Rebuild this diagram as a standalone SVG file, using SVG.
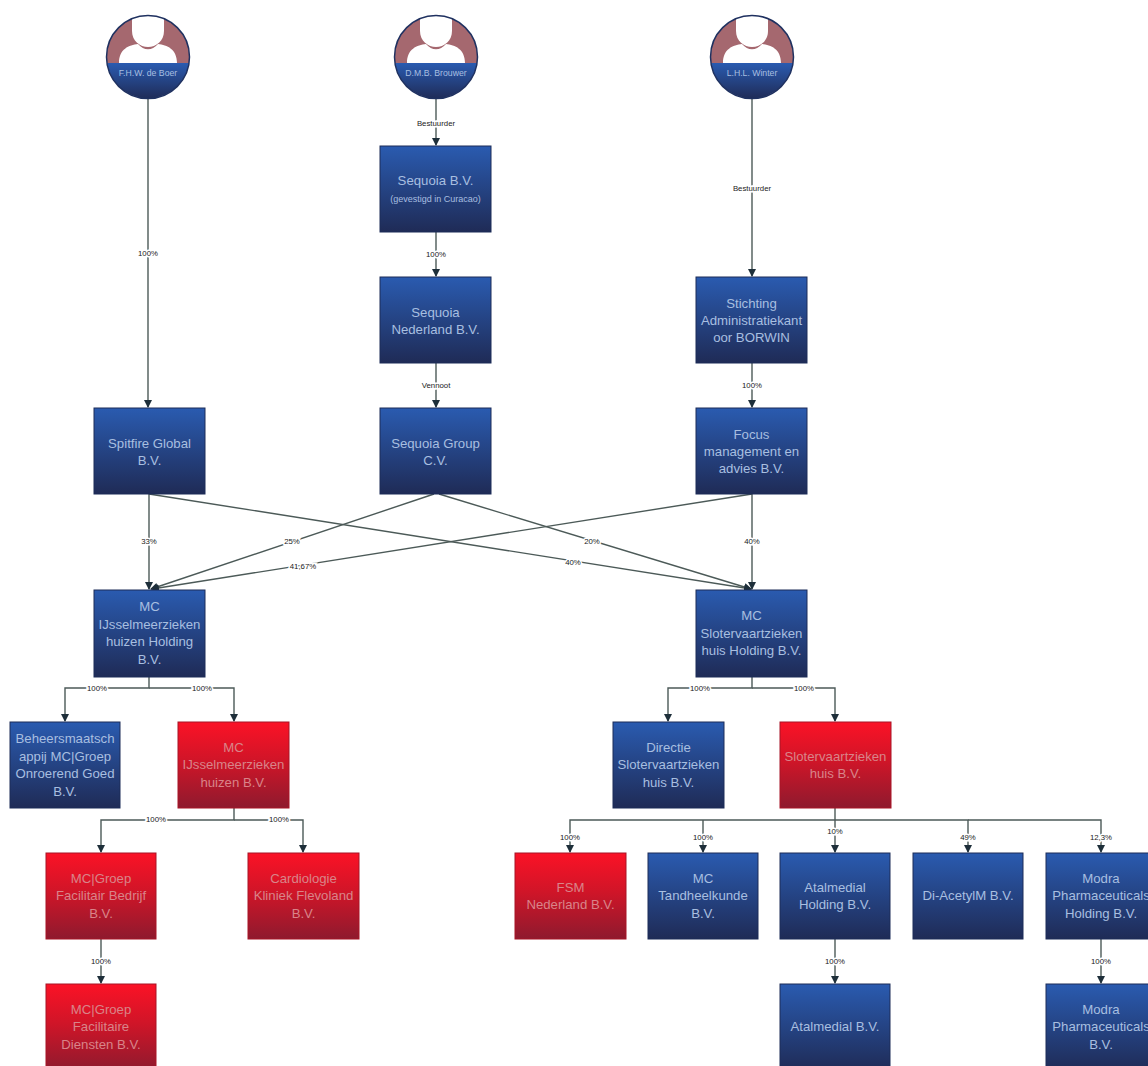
<svg xmlns="http://www.w3.org/2000/svg" width="1148" height="1066" viewBox="0 0 1148 1066">
<style>
.b{fill:url(#blue);stroke:#1d2c58;stroke-width:1}
.r{fill:url(#red);stroke:#a81526;stroke-width:1}
text{font-family:"Liberation Sans",Arial,sans-serif;text-anchor:middle}
.tb{font-size:13.2px;fill:#a8bfe0}
.tr{font-size:13.2px;fill:#d98489}
.ts{font-size:9px;fill:#a8bfe0}
.av{font-size:8.7px;fill:#a8bfe0}
.l{fill:none;stroke:#4c5a58;stroke-width:1.4}
.lbl{font-size:7.8px;fill:#222;paint-order:stroke;stroke:#fff;stroke-width:3px}
</style>
<defs>
<linearGradient id="blue" x1="0" y1="0" x2="0" y2="1"><stop offset="0" stop-color="#2a5bb0"/><stop offset="1" stop-color="#1f2b56"/></linearGradient>
<linearGradient id="red" x1="0" y1="0" x2="0" y2="1"><stop offset="0" stop-color="#fb1226"/><stop offset="0.45" stop-color="#d01528"/><stop offset="1" stop-color="#8e1a2e"/></linearGradient>
<marker id="a" markerWidth="9" markerHeight="9" refX="7" refY="4" orient="auto" markerUnits="userSpaceOnUse"><path d="M0 0L8 4L0 8Z" fill="#1e2f3a"/></marker>
<clipPath id="cc"><circle cx="0" cy="0" r="41.5"/></clipPath>
<g id="avatar">
<g clip-path="url(#cc)">
<rect x="-42" y="-42" width="84" height="48" fill="#a5686f"/>
<rect x="-42" y="6" width="84" height="36" fill="url(#blue)"/>
<path d="M-29 6C-29 -8 -19 -12 -10 -13C-4 -6 4 -6 10 -13C19 -12 29 -8 29 6Z" fill="#fff"/>
<path d="M-16 -42H16V-26C16 -16 8 -10 0 -10C-8 -10 -16 -16 -16 -26Z" fill="#fff"/>
</g>
<circle r="41.5" fill="none" stroke="#1f3160" stroke-width="1.5"/>
</g>
</defs>
<rect width="1148" height="1066" fill="#fff"/>
<g id="connectors">
<path class="l" d="M148 99V407" marker-end="url(#a)"/>
<path class="l" d="M436 99V145" marker-end="url(#a)"/>
<path class="l" d="M436 232V276" marker-end="url(#a)"/>
<path class="l" d="M436 363V407" marker-end="url(#a)"/>
<path class="l" d="M752 99V276" marker-end="url(#a)"/>
<path class="l" d="M752 363V407" marker-end="url(#a)"/>
<path class="l" d="M149 494V589" marker-end="url(#a)"/>
<path class="l" d="M149 494L751 589" marker-end="url(#a)"/>
<path class="l" d="M434 494L151 589" marker-end="url(#a)"/>
<path class="l" d="M439 494L751 589" marker-end="url(#a)"/>
<path class="l" d="M752 494L152 589" marker-end="url(#a)"/>
<path class="l" d="M752 494V589" marker-end="url(#a)"/>
<path class="l" d="M149 677V688H65V721" marker-end="url(#a)"/>
<path class="l" d="M149 688H234V721" marker-end="url(#a)"/>
<path class="l" d="M752 677V688H668V721" marker-end="url(#a)"/>
<path class="l" d="M752 688H835V721" marker-end="url(#a)"/>
<path class="l" d="M234 808V820H101V852" marker-end="url(#a)"/>
<path class="l" d="M234 820H303V852" marker-end="url(#a)"/>
<path class="l" d="M101 939V983" marker-end="url(#a)"/>
<path class="l" d="M835 808V852" marker-end="url(#a)"/>
<path class="l" d="M835 820H570V852" marker-end="url(#a)"/>
<path class="l" d="M703 820V852" marker-end="url(#a)"/>
<path class="l" d="M835 820H968V852" marker-end="url(#a)"/>
<path class="l" d="M968 820H1101V852" marker-end="url(#a)"/>
<path class="l" d="M835 939V983" marker-end="url(#a)"/>
<path class="l" d="M1101 939V983" marker-end="url(#a)"/>
<g id="connector-labels">
<text class="lbl" x="148" y="256">100%</text>
<text class="lbl" x="436" y="126">Bestuurder</text>
<text class="lbl" x="436" y="257">100%</text>
<text class="lbl" x="436" y="388">Vennoot</text>
<text class="lbl" x="752" y="191">Bestuurder</text>
<text class="lbl" x="752" y="388">100%</text>
<text class="lbl" x="149" y="544">33%</text>
<text class="lbl" x="292" y="544">25%</text>
<text class="lbl" x="303" y="569">41,67%</text>
<text class="lbl" x="592" y="544">20%</text>
<text class="lbl" x="573" y="565">40%</text>
<text class="lbl" x="752" y="544">40%</text>
<text class="lbl" x="97" y="691">100%</text>
<text class="lbl" x="202" y="691">100%</text>
<text class="lbl" x="700" y="691">100%</text>
<text class="lbl" x="804" y="691">100%</text>
<text class="lbl" x="156" y="822">100%</text>
<text class="lbl" x="279" y="822">100%</text>
<text class="lbl" x="101" y="964">100%</text>
<text class="lbl" x="570" y="840">100%</text>
<text class="lbl" x="703" y="840">100%</text>
<text class="lbl" x="835" y="834">10%</text>
<text class="lbl" x="968" y="840">49%</text>
<text class="lbl" x="1101" y="840">12,3%</text>
<text class="lbl" x="835" y="964">100%</text>
<text class="lbl" x="1101" y="964">100%</text>
</g>
</g>
<g id="p1"><use href="#avatar" x="148" y="57"/><text class="av" x="148" y="76">F.H.W. de Boer</text></g>
<g id="p2"><use href="#avatar" x="436" y="57"/><text class="av" x="436" y="76">D.M.B. Brouwer</text></g>
<g id="p3"><use href="#avatar" x="752" y="57"/><text class="av" x="752" y="76">L.H.L. Winter</text></g>
<g id="n1"><rect class="b" x="380" y="146" width="111" height="86"/><text class="tb" x="435.5" y="185">Sequoia B.V.</text><text class="ts" x="435.5" y="202">(gevestigd in Curacao)</text></g>
<g id="n2"><rect class="b" x="380" y="277" width="111" height="86"/><text class="tb" x="435.5" y="317">Sequoia</text><text class="tb" x="435.5" y="334">Nederland B.V.</text></g>
<g id="n3"><rect class="b" x="380" y="408" width="111" height="86"/><text class="tb" x="435.5" y="448">Sequoia Group</text><text class="tb" x="435.5" y="465">C.V.</text></g>
<g id="n4"><rect class="b" x="94" y="408" width="111" height="86"/><text class="tb" x="149.5" y="448">Spitfire Global</text><text class="tb" x="149.5" y="465">B.V.</text></g>
<g id="n5"><rect class="b" x="696" y="277" width="111" height="86"/><text class="tb" x="751.5" y="308">Stichting</text><text class="tb" x="751.5" y="325">Administratiekant</text><text class="tb" x="751.5" y="342">oor BORWIN</text></g>
<g id="n6"><rect class="b" x="696" y="408" width="111" height="86"/><text class="tb" x="751.5" y="439">Focus</text><text class="tb" x="751.5" y="456">management en</text><text class="tb" x="751.5" y="473">advies B.V.</text></g>
<g id="n7"><rect class="b" x="94" y="590" width="111" height="87"/><text class="tb" x="149.5" y="611">MC</text><text class="tb" x="149.5" y="629">IJsselmeerzieken</text><text class="tb" x="149.5" y="646">huizen Holding</text><text class="tb" x="149.5" y="664">B.V.</text></g>
<g id="n8"><rect class="b" x="696" y="590" width="111" height="87"/><text class="tb" x="751.5" y="620">MC</text><text class="tb" x="751.5" y="638">Slotervaartzieken</text><text class="tb" x="751.5" y="655">huis Holding B.V.</text></g>
<g id="n9"><rect class="b" x="10" y="722" width="110" height="86"/><text class="tb" x="65" y="743">Beheersmaatsch</text><text class="tb" x="65" y="761">appij MC|Groep</text><text class="tb" x="65" y="778">Onroerend Goed</text><text class="tb" x="65" y="796">B.V.</text></g>
<g id="n10"><rect class="r" x="178" y="722" width="111" height="86"/><text class="tr" x="233.5" y="752">MC</text><text class="tr" x="233.5" y="769">IJsselmeerzieken</text><text class="tr" x="233.5" y="787">huizen B.V.</text></g>
<g id="n11"><rect class="b" x="613" y="722" width="111" height="86"/><text class="tb" x="668.5" y="752">Directie</text><text class="tb" x="668.5" y="769">Slotervaartzieken</text><text class="tb" x="668.5" y="787">huis B.V.</text></g>
<g id="n12"><rect class="r" x="780" y="722" width="111" height="86"/><text class="tr" x="835.5" y="761">Slotervaartzieken</text><text class="tr" x="835.5" y="778">huis B.V.</text></g>
<g id="n13"><rect class="r" x="46" y="853" width="110" height="86"/><text class="tr" x="101" y="883">MC|Groep</text><text class="tr" x="101" y="900">Facilitair Bedrijf</text><text class="tr" x="101" y="918">B.V.</text></g>
<g id="n14"><rect class="r" x="248" y="853" width="111" height="86"/><text class="tr" x="303.5" y="883">Cardiologie</text><text class="tr" x="303.5" y="900">Kliniek Flevoland</text><text class="tr" x="303.5" y="918">B.V.</text></g>
<g id="n15"><rect class="r" x="46" y="984" width="110" height="87"/><text class="tr" x="101" y="1014">MC|Groep</text><text class="tr" x="101" y="1031">Facilitaire</text><text class="tr" x="101" y="1049">Diensten B.V.</text></g>
<g id="n16"><rect class="r" x="515" y="853" width="111" height="86"/><text class="tr" x="570.5" y="892">FSM</text><text class="tr" x="570.5" y="909">Nederland B.V.</text></g>
<g id="n17"><rect class="b" x="648" y="853" width="110" height="86"/><text class="tb" x="703" y="883">MC</text><text class="tb" x="703" y="900">Tandheelkunde</text><text class="tb" x="703" y="918">B.V.</text></g>
<g id="n18"><rect class="b" x="780" y="853" width="110" height="86"/><text class="tb" x="835" y="892">Atalmedial</text><text class="tb" x="835" y="909">Holding B.V.</text></g>
<g id="n19"><rect class="b" x="913" y="853" width="110" height="86"/><text class="tb" x="968" y="900">Di-AcetylM B.V.</text></g>
<g id="n20"><rect class="b" x="1046" y="853" width="110" height="86"/><text class="tb" x="1101" y="883">Modra</text><text class="tb" x="1101" y="900">Pharmaceuticals</text><text class="tb" x="1101" y="918">Holding B.V.</text></g>
<g id="n21"><rect class="b" x="780" y="984" width="110" height="87"/><text class="tb" x="835" y="1031">Atalmedial B.V.</text></g>
<g id="n22"><rect class="b" x="1046" y="984" width="110" height="87"/><text class="tb" x="1101" y="1014">Modra</text><text class="tb" x="1101" y="1031">Pharmaceuticals</text><text class="tb" x="1101" y="1049">B.V.</text></g>
</svg>
